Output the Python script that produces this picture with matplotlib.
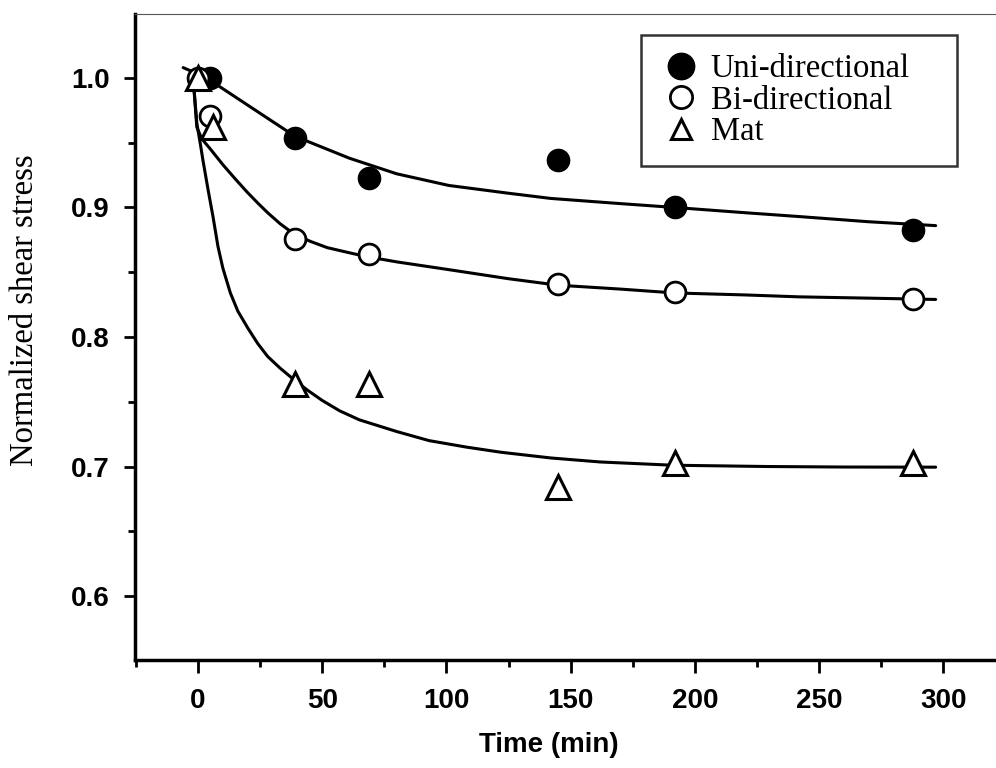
import matplotlib.pyplot as plt
from matplotlib.lines import Line2D
from matplotlib.ticker import MultipleLocator

# measured points
uni_t = [5, 39, 69, 145, 192, 288]
uni_y = [1.000, 0.954, 0.923, 0.937, 0.900, 0.883]
bi_t = [0, 5, 39, 69, 145, 192, 288]
bi_y = [1.000, 0.971, 0.876, 0.864, 0.841, 0.835, 0.829]
mat_t = [0, 6, 39, 69, 145, 192, 288]
mat_y = [1.000, 0.962, 0.764, 0.764, 0.684, 0.703, 0.703]

# fitted curves
uni_fit_t = [-6, 0, 5, 20, 39, 61, 80, 101, 125, 142, 170, 192, 220, 242, 270, 297]
uni_fit_y = [1.008, 1.003, 0.998, 0.979, 0.955, 0.938, 0.926, 0.917, 0.911, 0.907,
             0.903, 0.900, 0.896, 0.893, 0.889, 0.886]
bi_fit_t = [-2, -0.5, 1.5, 5, 10, 15, 19.7, 24, 28, 33, 38.3, 45, 52, 61, 68, 80,
            101, 125, 145, 170, 192, 220, 242, 270, 297]
bi_fit_y = [1.0, 0.962, 0.953, 0.945, 0.933, 0.922, 0.912, 0.9035, 0.896, 0.8875,
            0.880, 0.874, 0.869, 0.865, 0.862, 0.858, 0.852, 0.845, 0.840, 0.837,
            0.834, 0.8325, 0.831, 0.830, 0.829]
mat_fit_t = [-2, -0.5, 1, 2, 4, 6, 8, 10, 13, 16, 20, 24, 28, 33, 38, 44, 50, 57,
             65, 80, 93, 108, 122, 142, 162, 191, 229, 260, 297]
mat_fit_y = [1.0, 0.965, 0.948, 0.936, 0.914, 0.893, 0.870, 0.853, 0.834, 0.820,
             0.807, 0.795, 0.785, 0.776, 0.768, 0.759, 0.751, 0.743, 0.736, 0.727,
             0.720, 0.715, 0.711, 0.7066, 0.7035, 0.701, 0.700, 0.6996, 0.6995]

fig = plt.figure(figsize=(9.96, 7.68), dpi=100)
ax = fig.add_axes([135 / 996, 1 - 660 / 768, 1 - 135 / 996, (660 - 14) / 768])

line_kw = dict(color="black", linewidth=2.2, solid_joinstyle="round",
               solid_capstyle="round", zorder=2)
ax.plot(uni_fit_t, uni_fit_y, **line_kw)
ax.plot(bi_fit_t, bi_fit_y, **line_kw)
ax.plot(mat_fit_t, mat_fit_y, **line_kw)

ax.plot(uni_t, uni_y, "o", color="black", markersize=16, linestyle="none", zorder=3)
ax.plot(bi_t, bi_y, "o", markerfacecolor="white", markeredgecolor="black",
        markersize=15, markeredgewidth=2, linestyle="none", zorder=3)
ax.plot(mat_t, mat_y, "^", markerfacecolor="white", markeredgecolor="black",
        markersize=17, markeredgewidth=2.2, linestyle="none", zorder=4)

ax.set_xlim(-25.4, 321.3)
ax.set_ylim(0.5506, 1.0494)
ax.xaxis.set_major_locator(MultipleLocator(50))
ax.xaxis.set_minor_locator(MultipleLocator(25))
ax.yaxis.set_major_locator(MultipleLocator(0.1))
ax.yaxis.set_minor_locator(MultipleLocator(0.05))
ax.yaxis.set_major_formatter(plt.FuncFormatter(lambda v, p: f"{v:.1f}"))

for s in ["left", "bottom"]:
    ax.spines[s].set_linewidth(2.5)
ax.spines["right"].set_visible(False)
ax.spines["top"].set_linewidth(0.8)
ax.spines["top"].set_color("#555555")

ax.tick_params(axis="y", which="major", length=8, width=2, pad=10, direction="out")
ax.tick_params(axis="y", which="minor", length=5, width=2, direction="out")
ax.tick_params(axis="x", which="major", length=9.5, width=2, pad=11, direction="out")
ax.tick_params(axis="x", which="minor", length=5, width=2, direction="out")
for lab in ax.get_xticklabels() + ax.get_yticklabels():
    lab.set_fontfamily("Liberation Sans")
    lab.set_fontweight("bold")
    lab.set_fontsize(20)

fig.text(549 / 996, 1 - 745 / 768, "Time (min)", ha="center", va="center",
         fontsize=20, fontweight="bold", family="Liberation Sans")
fig.text(25 / 996, 1 - 310 / 768, "Normalized shear stress", ha="center", va="center",
         rotation=90, fontsize=23.5, family="Liberation Serif")

handles = [
    Line2D([], [], marker="o", color="black", markersize=19, linestyle="none"),
    Line2D([], [], marker="o", markerfacecolor="white", markeredgecolor="black",
           markersize=16, markeredgewidth=2, linestyle="none"),
    Line2D([], [], marker="^", markerfacecolor="white", markeredgecolor="black",
           markersize=15, markeredgewidth=2.2, linestyle="none"),
]
labels = ["Uni-directional", "Bi-directional", "Mat"]
leg = ax.legend(handles, labels, loc="upper left",
                bbox_to_anchor=(641 / 996, 1 - 167 / 768, 316 / 996, 132 / 768),
                bbox_transform=fig.transFigure, mode="expand", frameon=True,
                fancybox=False, prop={"family": "Liberation Serif", "size": 23.5},
                handlelength=1.3, handletextpad=0.25, labelspacing=0.03,
                borderpad=0.58, borderaxespad=0, numpoints=1)
leg.get_frame().set_edgecolor("black")
leg.get_frame().set_linewidth(1.8)

fig.savefig("out.png", dpi=100)
